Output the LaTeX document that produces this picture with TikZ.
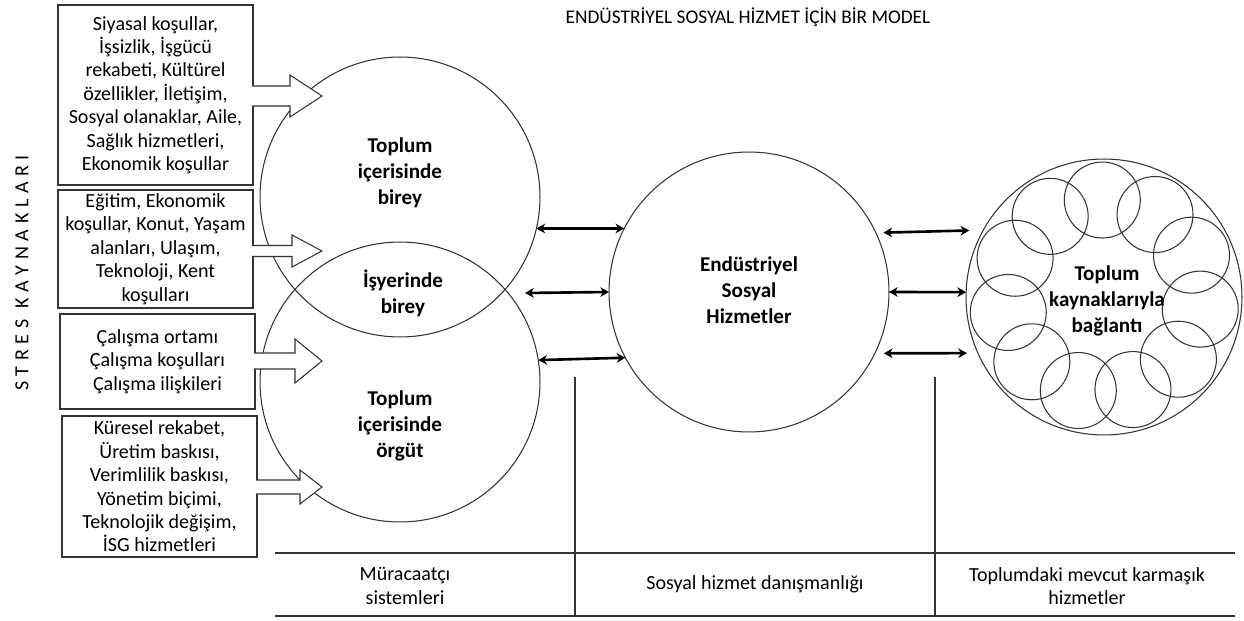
\documentclass[tikz,border=0pt]{standalone}
\usepackage{fontspec}
\setmainfont{Carlito}
\usetikzlibrary{arrows.meta}
\tikzset{>={Stealth[length=5pt, width=5.5pt]}}

\begin{document}
\begin{tikzpicture}[x=0.02cm, y=-0.02cm,
    yuvarlak/.style={circle, draw=black!80, line width=0.6pt, minimum size=5.6cm, inner sep=0pt, outer sep=0pt},
    kutu/.style={rectangle, draw=black!80, line width=0.6pt, fill=white, align=center, inner sep=2pt, minimum width=3.9cm, font=\fontsize{11.4}{13.3}\selectfont},
    kalin/.style={align=center, font=\bfseries\fontsize{12}{14.7}\selectfont},
    yazi/.style={align=center, font=\fontsize{11.4}{13.3}\selectfont},
    ok/.style={<->, line width=1.5pt}]
    \useasboundingbox (0,0) rectangle (1244,621);

    \node[font=\fontsize{11}{13}\selectfont] (baslik) at (748,17) {ENDÜSTRİYEL SOSYAL HİZMET İÇİN BİR MODEL};
    \node[yazi, rotate=90] (stres) at (22,273) {\spaceskip=3.2pt\relax S T R E S \ K A Y N A K L A R I};

    % circles
    \node[yuvarlak] (birey) at (400,197) {};
    \node[yuvarlak] (orgut) at (400,382) {};
    \node[yuvarlak] (esh) at (749,292) {};
    \node[yuvarlak, minimum size=5.52cm] (kaynak) at (1104,297) {};
    \foreach \i in {0,...,10}
        \draw[black!80, line width=0.6pt] (kaynak.center) ++({91-\i*360/11}:1.94cm) circle [radius=0.76cm];

    \node[kalin] (t1) at (400,173) {Toplum\\içerisinde\\birey};
    \node[kalin] (t2) at (403,293) {İşyerinde\\birey};
    \node[kalin] (t3) at (400,426) {Toplum\\içerisinde\\örgüt};
    \node[kalin] (t4) at (749,290) {Endüstriyel\\Sosyal\\Hizmetler};
    \node[kalin] (t5) at (1107,301) {Toplum\\kaynaklarıyla\\bağlantı};

    % stress sources
    \node[kutu, minimum height=3.6cm] (k1) at (155.5,95) {Siyasal koşullar,\\İşsizlik, İşgücü\\rekabeti, Kültürel\\özellikler, İletişim,\\Sosyal olanaklar, Aile,\\Sağlık hizmetleri,\\Ekonomik koşullar};
    \node[kutu, minimum height=2.36cm] (k2) at (155.5,249) {Eğitim, Ekonomik\\koşullar, Konut, Yaşam\\alanları, Ulaşım,\\Teknoloji, Kent\\koşulları};
    \node[kutu, minimum height=1.9cm] (k3) at (157.5,361.5) {Çalışma ortamı\\Çalışma koşulları\\Çalışma ilişkileri};
    \node[kutu, minimum height=2.82cm] (k4) at (159.5,486.5) {Küresel rekabet,\\Üretim baskısı,\\Verimlilik baskısı,\\Yönetim biçimi,\\Teknolojik değişim,\\İSG hizmetleri};

    \foreach \b/\y/\s/\h/\p in {k1/96/10/21/290, k2/251/5.5/16/292, k3/361/8/22/295, k4/487/7/17/300}
        \draw[black!80, line width=0.6pt, fill=white] ([xshift=-1pt]\b.east |- 0,{\y-\s}) -- (\p,{\y-\s}) -- (\p,{\y-\h}) -- (322,\y) -- (\p,{\y+\h}) -- (\p,{\y+\s}) -- ([xshift=-1pt]\b.east |- 0,{\y+\s});

    % links
    \coordinate (a2) at (525,293);
    \draw[ok] (birey.-13.6) -- (esh.153.7);
    \draw[ok] (a2) -- (esh.180.4);
    \draw[ok] (orgut.9.87) -- (esh.208.1);
    \draw[ok, shorten <=0.15cm, shorten >=0.28cm] (esh.25.4) -- (kaynak.151.9);
    \draw[ok] (esh.-0.4) -- (kaynak.178.3);
    \draw[ok, shorten <=0.18cm, shorten >=0.22cm] (esh.-26.7) -- (kaynak.204.9);

    % table
    \draw[black!80, line width=0.6pt] (275,553) -- (1235,553);
    \draw[black!80, line width=0.6pt] (275,616) -- (1235,616);
    \draw[black!80, line width=0.6pt] (575,377) -- (575,616);
    \draw[black!80, line width=0.6pt] (935,377) -- (935,616);
    \node[yazi] (m1) at (405,586) {Müracaatçı\\sistemleri};
    \node[yazi] (m2) at (755,584) {Sosyal hizmet danışmanlığı};
    \node[yazi] (m3) at (1087,586) {Toplumdaki mevcut karmaşık\\hizmetler};
\end{tikzpicture}
\end{document}
